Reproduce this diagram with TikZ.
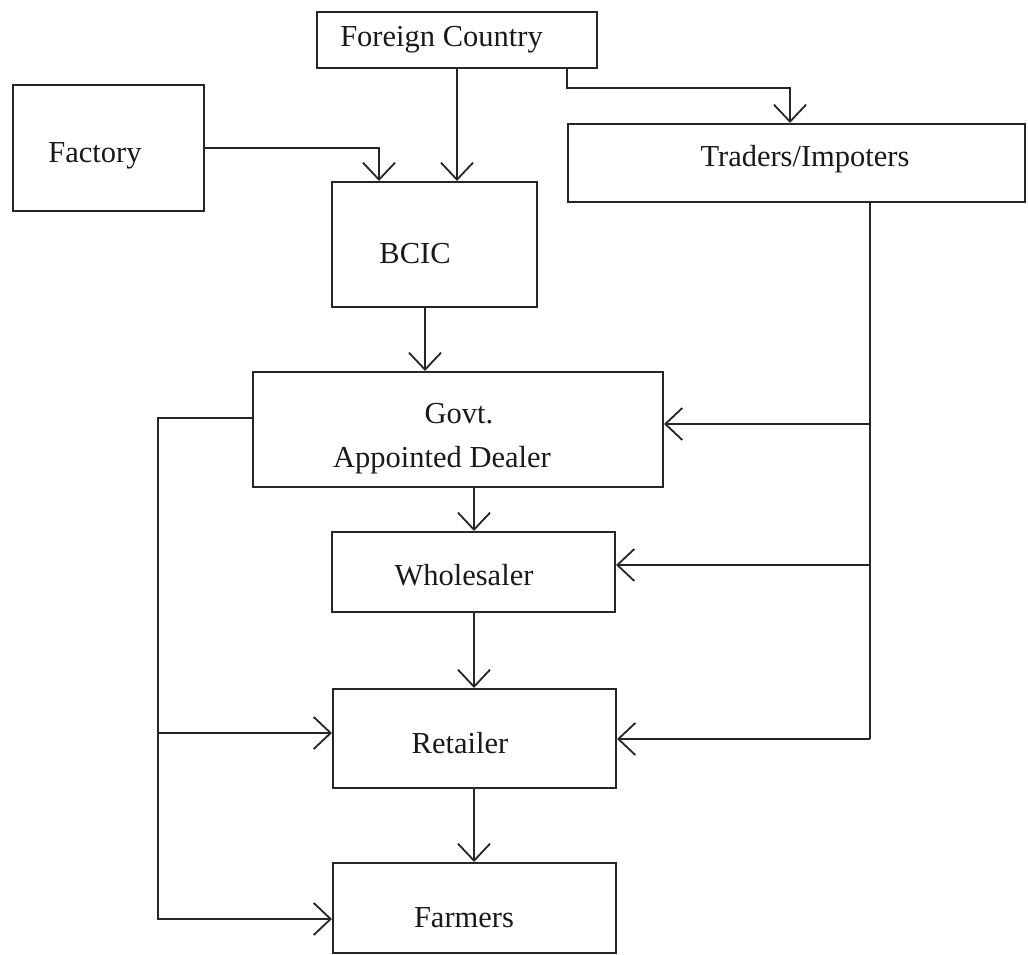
\documentclass[tikz,border=0pt]{standalone}
\usepackage{fontspec}
\setmainfont{Liberation Serif}
\usetikzlibrary{arrows.meta}
\begin{document}
\begin{tikzpicture}[x=1pt,y=-1pt,
  box/.style={draw=black!85, line width=2pt, inner sep=0pt},
  txt/.style={font=\fontsize{30.5}{36}\selectfont, anchor=base, inner sep=0pt, text=black!90},
  conn/.style={draw=black!85, line width=1.8pt},
  arr/.style={conn, -{Straight Barb[length=17pt,width=32pt]}}]
\useasboundingbox (0,0) rectangle (1028,955);

% boxes
\node[box, minimum width=280pt, minimum height=56pt]  (fc)   at (457,40) {};
\node[box, minimum width=191pt, minimum height=125pt] (fac)  at (108.5,148) {};
\node[box, minimum width=457pt, minimum height=78pt]  (tr)   at (796.5,163) {};
\node[box, minimum width=205pt, minimum height=125pt] (bcic) at (434.5,244.5) {};
\node[box, minimum width=410pt, minimum height=115pt] (govt) at (458,429.5) {};
\node[box, minimum width=283pt, minimum height=80pt]  (wh)   at (473.5,572) {};
\node[box, minimum width=283pt, minimum height=99pt]  (ret)  at (474.5,738.5) {};
\node[box, minimum width=283pt, minimum height=90pt]  (far)  at (474.5,908) {};

% labels
\node[txt] (fc-t)    at (441.5,47) {Foreign Country};
\node[txt] (fac-t)   at (95,163)   {Factory};
\node[txt] (tr-t)    at (805,166)  {Traders/Impoters};
\node[txt] (bcic-t)  at (415,263)  {BCIC};
\node[txt] (govt-t1) at (459,423)  {Govt.};
\node[txt] (govt-t2) at (442,467)  {Appointed Dealer};
\node[txt] (wh-t)    at (464,585)  {Wholesaler};
\node[txt] (ret-t)   at (460,753)  {Retailer};
\node[txt] (far-t)   at (464,927)  {Farmers};

% supply into BCIC
\draw[arr] (fc.south) -- (bcic.north -| fc.south);
\coordinate (fj) at (379,148);
\draw[arr] (fac.east) -- (fj) -- (bcic.north -| fj);

% foreign country to traders
\coordinate (e1) at (567,88);
\coordinate (e2) at (790,88);
\draw[arr] (fc.south -| e1) -- (e1) -- (e2) -- (tr.north -| e2);

% main chain
\coordinate (cb) at (425,0);
\coordinate (ch) at (474,0);
\draw[arr] (bcic.south -| cb) -- (govt.north -| cb);
\draw[arr] (govt.south -| ch) -- (wh.north -| ch);
\draw[arr] (wh.south -| ch) -- (ret.north -| ch);
\draw[arr] (ret.south -| ch) -- (far.north -| ch);

% traders distribution
\coordinate (r1) at (870,424);
\coordinate (r2) at (870,565);
\coordinate (r3) at (870,739);
\draw[conn] (tr.south -| r1) -- (r3);
\draw[arr] (r1) -- (govt.east |- r1);
\draw[arr] (r2) -- (wh.east |- r2);
\draw[arr] (r3) -- (ret.east |- r3);

% dealer direct distribution
\coordinate (l1) at (158,418);
\coordinate (l2) at (158,733);
\coordinate (l3) at (158,919);
\draw[arr] (govt.west |- l1) -- (l1) -- (l3) -- (far.west |- l3);
\draw[arr] (l2) -- (ret.west |- l2);
\end{tikzpicture}
\end{document}
